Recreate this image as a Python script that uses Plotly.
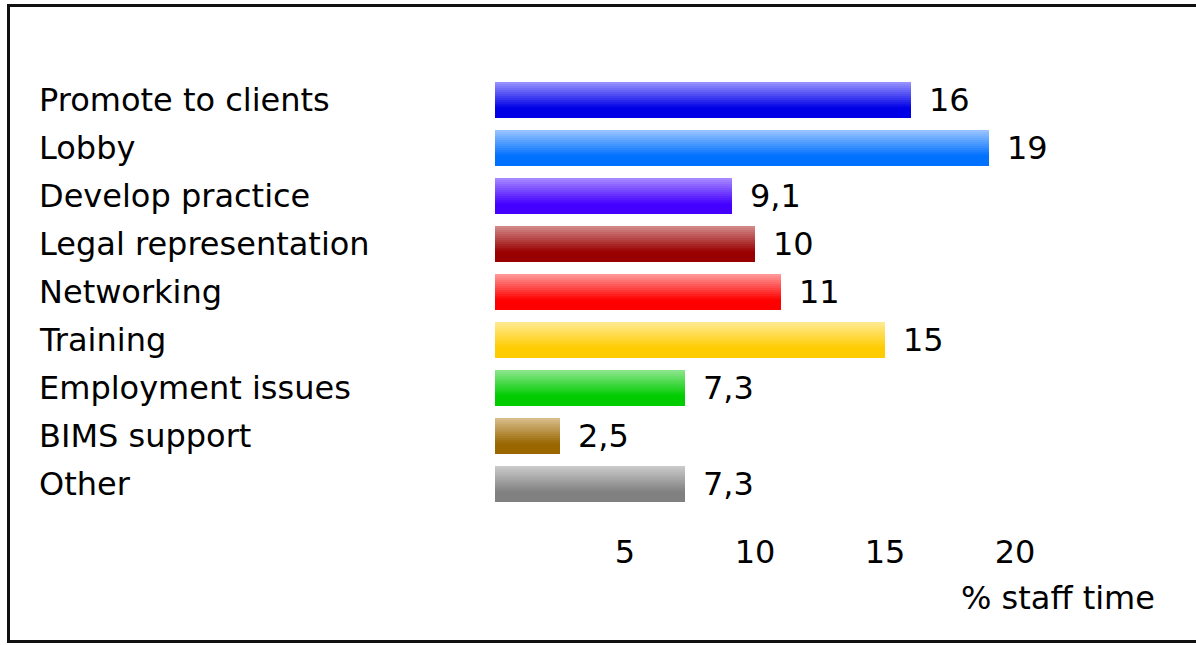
import plotly.graph_objects as go

categories = ["Promote to clients", "Lobby", "Develop practice", "Legal representation",
              "Networking", "Training", "Employment issues", "BIMS support", "Other"]
values = [16, 19, 9.1, 10, 11, 15, 7.3, 2.5, 7.3]
light_colors = ["#9a96ff", "#9cc6ff", "#a98cff", "#d48c8c", "#ff9c9c", "#ffea94", "#8ee68e", "#d9c08f", "#cccccc"]
dark_colors = ["#0000e6", "#0070ff", "#4400ff", "#990000", "#ff0000", "#ffcc00", "#00cc00", "#996600", "#808080"]
x_ticks = [5, 10, 15, 20]
x_title = "% staff time"

FONT = "DejaVu Sans, Verdana, sans-serif"
FS = 32
W, H = 1196, 645
L, R, T, B = 495, 51, 76, 137
PW, PH = W - L - R, H - T - B

def hex2rgb(h):
    h = h.lstrip("#")
    return tuple(int(h[i:i + 2], 16) for i in (0, 2, 4))

def lerp(c1, c2, t):
    a, b = hex2rgb(c1), hex2rgb(c2)
    return "rgb(%d,%d,%d)" % tuple(round(a[i] + (b[i] - a[i]) * t) for i in range(3))

fig = go.Figure()
N = 18
bw = 0.75
sw = bw / N
for k in range(N):
    t = min(1.0, (k + 0.5) / N / 0.72)
    cols = [lerp(lc, dc, t) for lc, dc in zip(light_colors, dark_colors)]
    fig.add_trace(go.Bar(
        x=values, y=categories, orientation="h",
        width=sw * 1.08, offset=-bw / 2 + k * sw,
        marker=dict(color=cols, line=dict(width=0)),
        hoverinfo="skip", showlegend=False,
    ))

annotations = []
for c in categories:
    annotations.append(dict(x=(37 - L) / PW, xref="paper", y=c, yref="y", text=c,
                            xanchor="left", yanchor="middle", showarrow=False,
                            font=dict(family=FONT, size=FS, color="#000")))
for c, v in zip(categories, values):
    annotations.append(dict(x=v, xref="x", y=c, yref="y", text=f"{v:g}".replace(".", ","),
                            xanchor="left", yanchor="middle", xshift=16, showarrow=False,
                            font=dict(family=FONT, size=FS, color="#000")))
annotations.append(dict(x=1, xref="paper", y=0, yref="paper", text=x_title,
                        xanchor="right", yanchor="middle", xshift=12, yshift=-90,
                        showarrow=False, font=dict(family=FONT, size=FS, color="#000")))

y_top_px, y_bot_px = 5.5, 641.5
fig.update_layout(
    width=W, height=H,
    margin=dict(l=L, r=R, t=T, b=B, pad=0),
    paper_bgcolor="white", plot_bgcolor="white",
    barmode="overlay", bargap=0,
    annotations=annotations,
    xaxis=dict(range=[0, 25], tickvals=x_ticks, showgrid=False, zeroline=False,
               showline=False, ticks="", ticklabelstandoff=22,
               tickfont=dict(family=FONT, size=FS, color="#000")),
    yaxis=dict(categoryorder="array", categoryarray=categories, autorange="reversed",
               showticklabels=False, showgrid=False, zeroline=False, showline=False, ticks=""),
    shapes=[dict(type="rect", xref="paper", yref="paper",
                 x0=(8.5 - L) / PW, x1=(1210 - L) / PW,
                 y0=(T + PH - y_bot_px) / PH, y1=(T + PH - y_top_px) / PH,
                 line=dict(color="#111", width=3), layer="below")],
    hovermode=False,
)

fig.write_html("out.html")
